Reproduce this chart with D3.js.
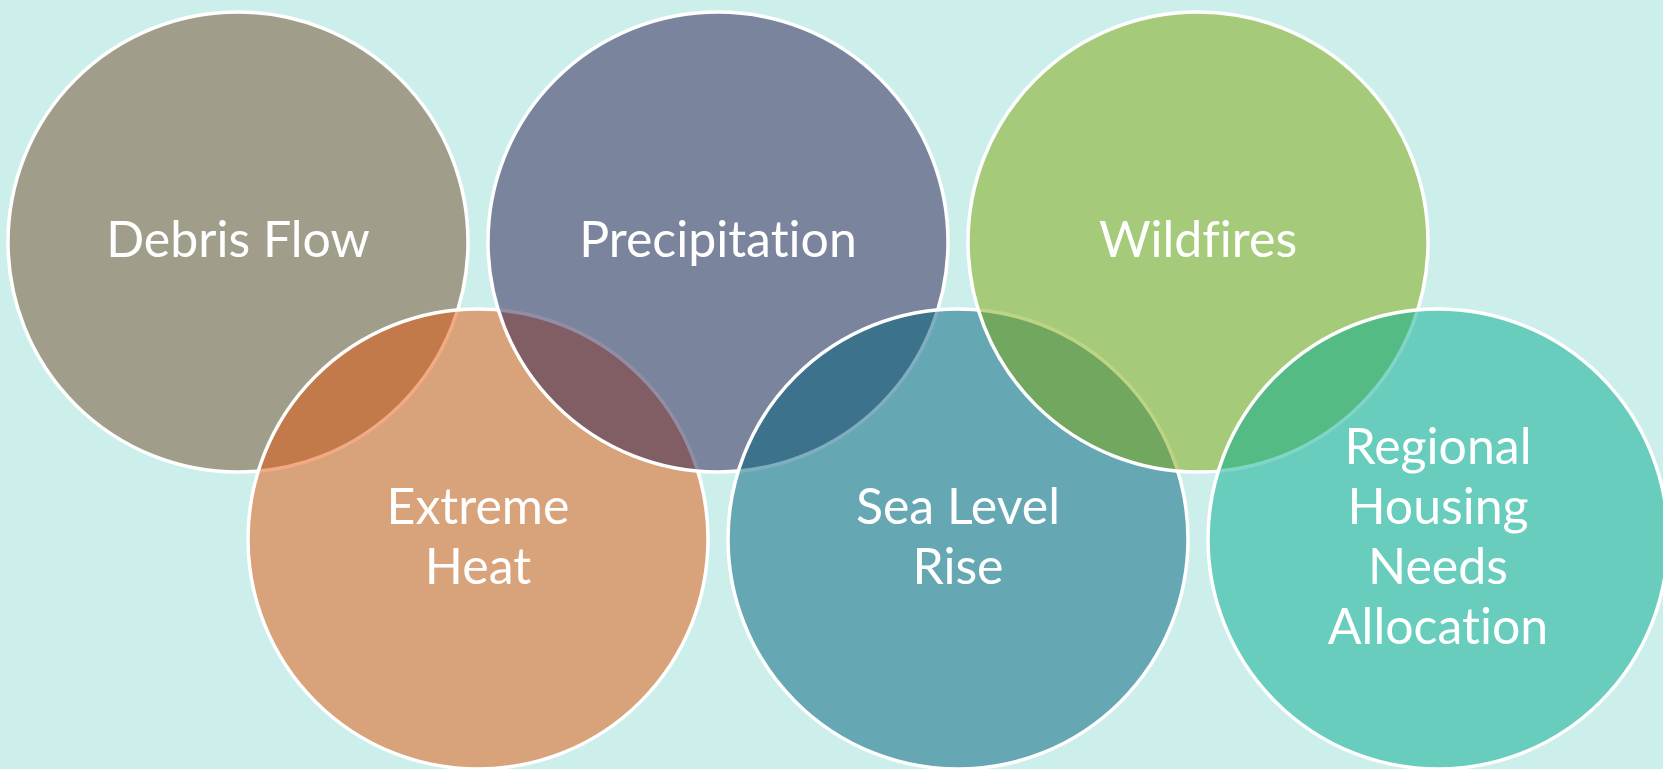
<!DOCTYPE html>
<html>
<head>
<meta charset="utf-8">
<script src="https://cdn.jsdelivr.net/npm/d3@7/dist/d3.min.js"></script>
<style>
  html, body { margin: 0; padding: 0; background: #cdefeb; overflow: hidden; }
  svg { display: block; }
</style>
</head>
<body>
<svg id="chart" width="1663" height="769"></svg>
<script>
// ---- data ----
const categories = ["Debris Flow", "Extreme Heat", "Precipitation", "Sea Level Rise", "Wildfires", "Regional Housing Needs Allocation"];
const labelLines = [["Debris Flow"], ["Extreme", "Heat"], ["Precipitation"], ["Sea Level", "Rise"], ["Wildfires"], ["Regional", "Housing", "Needs", "Allocation"]];
const rows = ["top", "bottom", "top", "bottom", "top", "bottom"];
const fillColors = ["#734d29", "#e35509", "#27194d", "#005f7d", "#7da709", "#03ab8f"];

// ---- drawing ----
const W = 1663, H = 769;
const svg = d3.select("#chart");
svg.append("rect").attr("width", W).attr("height", H).attr("fill", "#cdefeb");

const R = 230;
const x = d3.scalePoint().domain(categories).range([238, 1438]);
const y = d3.scalePoint().domain(["top", "bottom"]).range([242, 539]);

const data = categories.map((c, i) => ({ name: c, lines: labelLines[i], row: rows[i], color: fillColors[i] }));

svg.selectAll("circle.venn")
  .data(data)
  .join("circle")
  .attr("class", "venn")
  .attr("cx", d => x(d.name))
  .attr("cy", d => y(d.row))
  .attr("r", R)
  .attr("fill", d => d.color)
  .attr("fill-opacity", 0.5)
  .attr("stroke", "#ffffff")
  .attr("stroke-width", 3.5);

const lineH = 60;
const fontSize = 50;
const g = svg.selectAll("text.lbl")
  .data(data)
  .join("text")
  .attr("class", "lbl")
  .attr("text-anchor", "middle")
  .attr("fill", "#ffffff")
  .style("font-family", "Lato, 'Open Sans', sans-serif")
  .style("font-size", fontSize + "px")
  .style("font-variant-ligatures", "none")
  .style("font-feature-settings", "'liga' 0, 'clig' 0");

g.each(function(d) {
  const t = d3.select(this);
  const n = d.lines.length;
  const cx = x(d.name), cy = y(d.row);
  d.lines.forEach((ln, k) => {
    t.append("tspan")
      .attr("x", cx)
      .attr("y", cy + 15 + (k - (n - 1) / 2) * lineH)
      .text(ln);
  });
});
</script>
</body>
</html>
